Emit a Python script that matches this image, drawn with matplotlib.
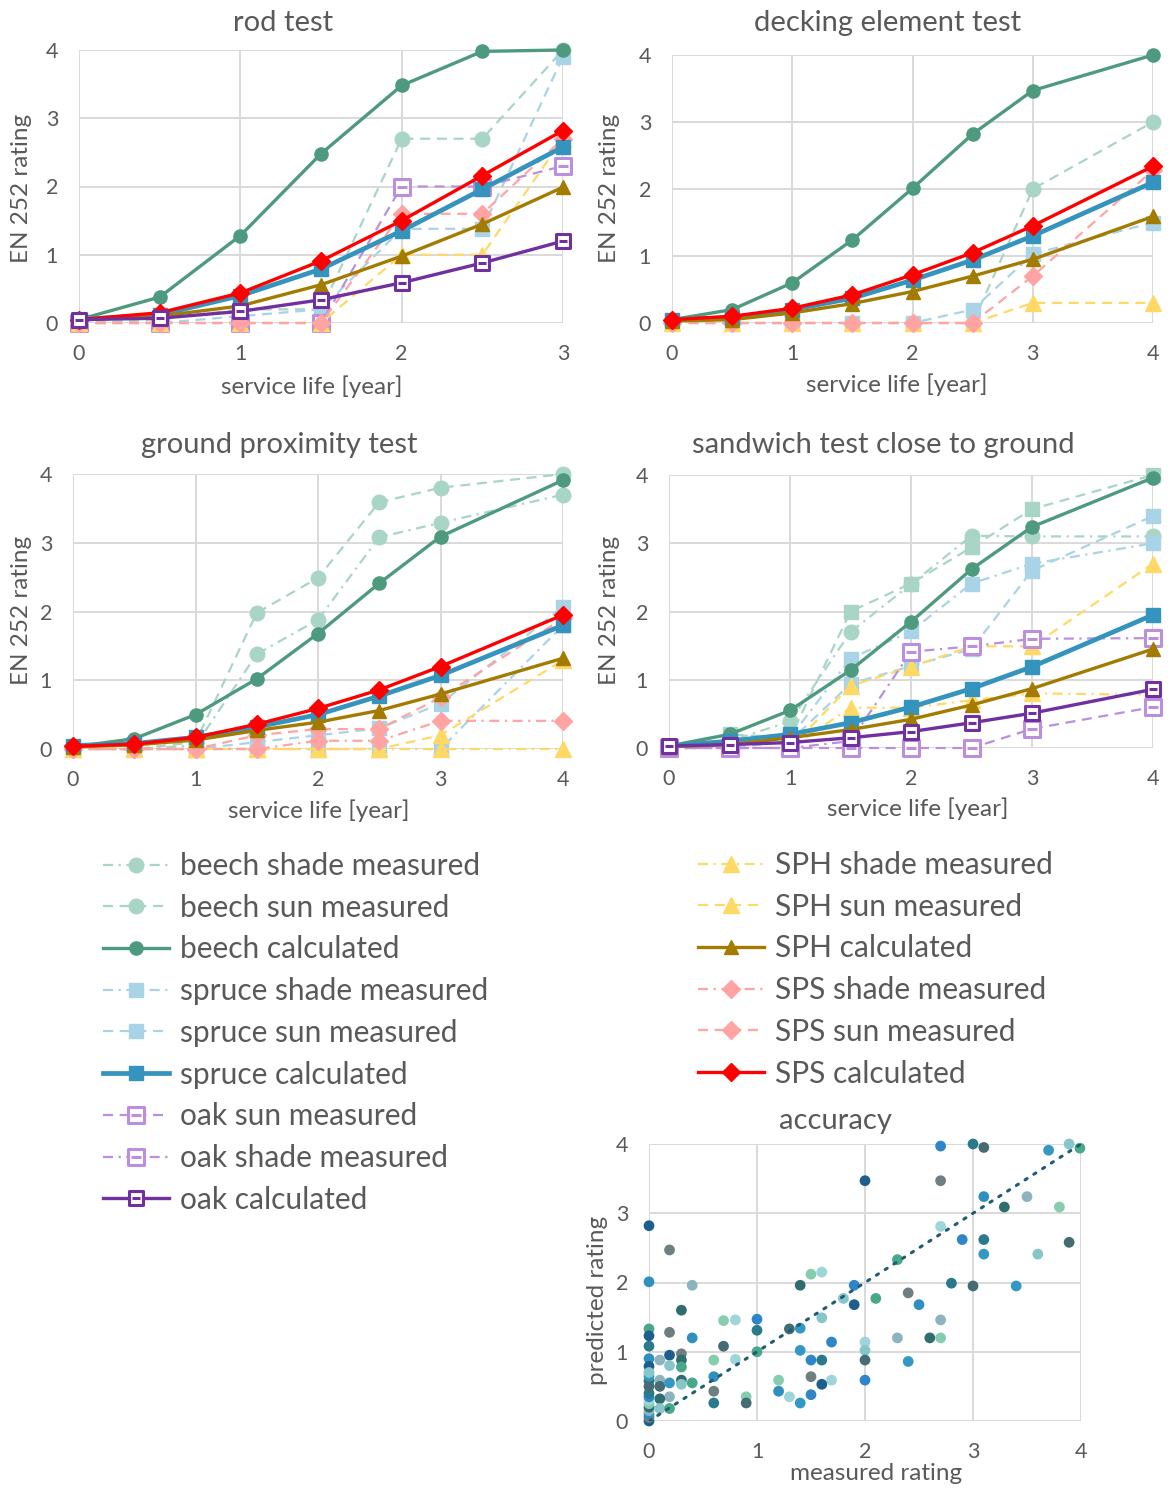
import matplotlib
matplotlib.use('Agg')
import matplotlib.pyplot as plt
from matplotlib.lines import Line2D
from matplotlib.path import Path

plt.rcParams['font.family'] = ['Lato', 'DejaVu Sans']
TXT = '#595959'
GRID = '#D9D9D9'
W, H = 1172, 1491

# ---------------- data ----------------
rod_x = [0, 0.5, 1, 1.5, 2, 2.5, 3]
rod_beech_sun = [0, 0.05, 0.2, 0.2, 2.7, 2.7, 4.0]
rod_spruce_sun = [0, 0, 0.1, 0.2, 1.38, 1.38, 3.9]
rod_oak_sun = [0, 0, 0, 0, 2.0, 2.0, 2.3]
rod_sph_sun = [0, 0, 0, 0, 1.0, 1.0, 2.7]
rod_sps_sun = [0, 0, 0, 0, 1.6, 1.6, 2.7]
rod_beech_calc = [0.05, 0.38, 1.28, 2.48, 3.48, 3.98, 4.0]
rod_spruce_calc = [0.05, 0.12, 0.4, 0.79, 1.35, 1.96, 2.58]
rod_sph_calc = [0.05, 0.1, 0.25, 0.56, 0.98, 1.45, 1.99]
rod_sps_calc = [0.05, 0.15, 0.44, 0.91, 1.5, 2.16, 2.82]
rod_oak_calc = [0.05, 0.07, 0.17, 0.34, 0.59, 0.88, 1.2]

deck_x = [0, 0.5, 1, 1.5, 2, 2.5, 3, 4]
deck_beech_sun = [0, 0, 0, 0, 0, 0, 2.0, 3.0]
deck_spruce_sun = [0, 0, 0, 0, 0, 0.2, 1.03, 1.5]
deck_sph_sun = [0, 0, 0, 0, 0, 0, 0.3, 0.3]
deck_sps_sun = [0, 0, 0, 0, 0, 0, 0.7, 2.28]
deck_beech_calc = [0.05, 0.2, 0.6, 1.24, 2.01, 2.82, 3.47, 4.0]
deck_spruce_calc = [0.05, 0.08, 0.2, 0.37, 0.64, 0.94, 1.3, 2.1]
deck_sph_calc = [0.03, 0.05, 0.15, 0.29, 0.47, 0.7, 0.95, 1.59]
deck_sps_calc = [0.05, 0.1, 0.22, 0.42, 0.72, 1.05, 1.45, 2.34]

gp_x = [0, 0.5, 1, 1.5, 2, 2.5, 3, 4]
gp_beech_sun = [0, 0, 0.1, 1.98, 2.49, 3.59, 3.8, 4.0]
gp_beech_shade = [0, 0, 0.05, 1.38, 1.88, 3.08, 3.29, 3.7]
gp_spruce_sun = [0, 0, 0, 0.1, 0.2, 0.3, 0.66, 2.07]
gp_spruce_shade = [0, 0, 0, 0, 0, 0, 0, 1.8]
gp_sph_sun = [0, 0, 0, 0, 0, 0, 0.2, 1.29]
gp_sph_shade = [0, 0, 0, 0, 0, 0, 0, 0]
gp_sps_sun = [0, 0, 0, 0.2, 0.29, 0.29, 0.75, 1.9]
gp_sps_shade = [0, 0, 0, 0, 0.12, 0.12, 0.41, 0.41]
gp_beech_calc = [0.03, 0.15, 0.5, 1.02, 1.68, 2.41, 3.09, 3.91]
gp_spruce_calc = [0.05, 0.08, 0.17, 0.32, 0.5, 0.77, 1.07, 1.8]
gp_sph_calc = [0.03, 0.06, 0.13, 0.27, 0.39, 0.56, 0.8, 1.32]
gp_sps_calc = [0.04, 0.07, 0.17, 0.36, 0.59, 0.86, 1.2, 1.95]

sw_x = [0, 0.5, 1, 1.5, 2, 2.5, 3, 4]
sw_beech_sq = [0, 0.2, 0.15, 2.0, 2.41, 2.94, 3.5, 4.0]
sw_beech_shade = [0, 0.1, 0.39, 1.7, 2.4, 3.11, 3.1, 3.1]
sw_spruce_shade = [0, 0.05, 0.15, 1.31, 1.71, 2.41, 2.7, 3.0]
sw_spruce_sun = [0, 0, 0.1, 0.94, 1.2, 1.45, 2.6, 3.4]
sw_sph_sun = [0, 0, 0, 0.91, 1.19, 1.49, 1.49, 2.7]
sw_sph_shade = [0, 0, 0, 0.59, 0.59, 0.7, 0.8, 0.78]
sw_oak_shade = [0, 0, 0, 0.1, 1.41, 1.49, 1.6, 1.61]
sw_oak_sun = [0, 0, 0, 0, 0, 0, 0.28, 0.6]
sw_beech_calc = [0.03, 0.2, 0.55, 1.14, 1.85, 2.62, 3.24, 3.96]
sw_spruce_calc = [0.03, 0.1, 0.2, 0.37, 0.6, 0.87, 1.19, 1.95]
sw_sph_calc = [0.02, 0.05, 0.15, 0.27, 0.42, 0.63, 0.87, 1.45]
sw_oak_calc = [0.03, 0.05, 0.08, 0.15, 0.24, 0.37, 0.51, 0.86]

acc_measured = [2.7, 3.0, 3.1, 3.7, 3.89, 3.99, 2.0, 2.7, 3.1, 3.5, 3.29, 3.8, 2.7, 2.9, 3.1, 3.89,
                3.1, 3.6, 2.3, 0, 0.19, 0, 0.4, 1.4, 1.5, 1.6, 1.9, 2.8, 3.0, 3.4, 1.8, 2.1, 1.9,
                2.4, 2.5, 2.7, 0.3, 0.69, 0.8, 1.0, 1.0, 1.3, 1.4, 1.6, 0, 0, 0.19, 0.4, 2.3, 2.6,
                2.7, 2.0, 1.69, 0, 0.69, 1.4, 2.0, 1.0, 0.19, 0.3, 0, 0.1, 0.3, 0.6, 0.8, 1.5, 1.6,
                2.0, 2.4, 0.19, 0.3, 0, 1.5, 0.6, 0.1, 0.3, 1.2, 1.69, 2.0, 0, 0.1, 0.19, 0.3, 0.4,
                1.6, 0.6, 1.2, 0.19, 0.1, 0.9, 1.3, 1.5, 0.6, 0.9, 1.4, 0.1, 0.19,
                0, 0, 0, 0, 0, 0, 0, 0, 0, 0, 0, 0]
acc_predicted = [3.97, 4.0, 3.95, 3.91, 4.0, 3.94, 3.47, 3.47, 3.24, 3.24, 3.09, 3.09, 2.81, 2.62, 2.62, 2.58,
                 2.41, 2.41, 2.33, 2.82, 2.47, 2.01, 1.96, 1.96, 2.12, 2.15, 1.96, 1.99, 1.95, 1.95, 1.77, 1.77, 1.68,
                 1.85, 1.68, 1.46, 1.6, 1.45, 1.46, 1.47, 1.31, 1.33, 1.34, 1.49, 1.33, 1.23, 1.28, 1.2, 1.2, 1.2,
                 1.2, 1.14, 1.14, 1.08, 1.08, 1.02, 1.02, 1.0, 0.95, 0.97, 0.9, 0.88, 0.88, 0.88, 0.89, 0.88, 0.88,
                 0.88, 0.86, 0.8, 0.78, 0.79, 0.64, 0.64, 0.59, 0.59, 0.59, 0.59, 0.59, 0.58, 0.5, 0.55, 0.53, 0.55,
                 0.53, 0.43, 0.43, 0.35, 0.32, 0.35, 0.35, 0.38, 0.26, 0.26, 0.26, 0.18, 0.18,
                 0.0, 0.05, 0.1, 0.15, 0.2, 0.25, 0.3, 0.35, 0.4, 0.5, 0.65, 0.7]

# ---------------- styles ----------------
# open square with a short bar in the middle (oak marker)
oak_verts = [(-1, -1), (1, -1), (1, 1), (-1, 1), (-1, -1), (-0.6, 0), (0.6, 0)]
oak_codes = [Path.MOVETO, Path.LINETO, Path.LINETO, Path.LINETO, Path.CLOSEPOLY, Path.MOVETO, Path.LINETO]
OAK = Path(oak_verts, oak_codes)

DASH = (0, (4.5, 3))
DASHDOT = (0, (4.5, 2.5, 1, 2.5))

S = {
    'beech shade measured': dict(color='#A9D5C7', ls=DASHDOT, lw=1.6, marker='o', ms=10.5),
    'beech sun measured': dict(color='#A9D5C7', ls=DASH, lw=1.6, marker='o', ms=10.5),
    'beech calculated': dict(color='#4E9A7F', ls='-', lw=2.4, marker='o', ms=9.5),
    'spruce shade measured': dict(color='#A9D3E6', ls=DASHDOT, lw=1.6, marker='s', ms=10),
    'spruce sun measured': dict(color='#A9D3E6', ls=DASH, lw=1.6, marker='s', ms=10),
    'spruce calculated': dict(color='#3594BD', ls='-', lw=3.4, marker='s', ms=9.5),
    'oak sun measured': dict(color='#B98FDE', ls=DASH, lw=1.6, marker=OAK, ms=11, mfc='white', mew=2.2),
    'oak shade measured': dict(color='#B98FDE', ls=DASHDOT, lw=1.6, marker=OAK, ms=11, mfc='white', mew=2.2),
    'oak calculated': dict(color='#7030A0', ls='-', lw=2.4, marker=OAK, ms=10.5, mfc='white', mew=2.2),
    'SPH shade measured': dict(color='#FFD966', ls=DASHDOT, lw=1.6, marker='^', ms=11),
    'SPH sun measured': dict(color='#FFD966', ls=DASH, lw=1.6, marker='^', ms=11),
    'SPH calculated': dict(color='#A37B00', ls='-', lw=2.4, marker='^', ms=10.5),
    'SPS shade measured': dict(color='#FFA3A3', ls=DASHDOT, lw=1.6, marker='D', ms=9.5),
    'SPS sun measured': dict(color='#FFA3A3', ls=DASH, lw=1.6, marker='D', ms=9.5),
    'SPS calculated': dict(color='#FF0000', ls='-', lw=2.4, marker='D', ms=9.5),
}


def style(name):
    d = dict(S[name])
    out = dict(color=d['color'], linestyle=d['ls'], linewidth=d['lw'], marker=d['marker'],
               markersize=d['ms'], markeredgecolor=d['color'],
               markerfacecolor=d.get('mfc', d['color']), markeredgewidth=d.get('mew', 1))
    return out


def px_axes(l, t, r, b):
    return fig.add_axes([l / W, 1 - b / H, (r - l) / W, (b - t) / H])


def ftext(x, y, s, size, rot=0):
    fig.text(x / W, 1 - y / H, s, ha='center', va='center', fontsize=size, color=TXT, rotation=rot)


def setup(ax, xmax):
    ax.set_xlim(0, xmax)
    ax.set_ylim(0, 4)
    ax.set_xticks(range(0, xmax + 1))
    ax.set_yticks(range(0, 5))
    ax.grid(True, color=GRID, lw=1.4)
    ax.set_axisbelow(True)
    for sp in ax.spines.values():
        sp.set_visible(False)
    ax.tick_params(length=0, labelsize=15.5, labelcolor=TXT, pad=15)


def draw(ax, x, series):
    for name, y in series:
        ax.plot(x, y, clip_on=False, **style(name))


fig = plt.figure(figsize=(W / 100, H / 100), dpi=100)
TITLE = 21
LABEL = 17.5

# rod test
ax = px_axes(79, 50, 563, 323)
setup(ax, 3)
draw(ax, rod_x, [('beech sun measured', rod_beech_sun), ('spruce sun measured', rod_spruce_sun),
                 ('oak sun measured', rod_oak_sun), ('SPH sun measured', rod_sph_sun),
                 ('SPS sun measured', rod_sps_sun), ('beech calculated', rod_beech_calc),
                 ('spruce calculated', rod_spruce_calc), ('SPH calculated', rod_sph_calc),
                 ('SPS calculated', rod_sps_calc), ('oak calculated', rod_oak_calc)])
ftext(283, 23, 'rod test', TITLE)
ftext(312, 387, 'service life [year]', LABEL)
ftext(22, 188, 'EN 252 rating', LABEL, 90)

# decking element test
ax = px_axes(672, 55, 1153, 323)
setup(ax, 4)
draw(ax, deck_x, [('beech sun measured', deck_beech_sun), ('spruce sun measured', deck_spruce_sun),
                  ('SPH sun measured', deck_sph_sun), ('SPS sun measured', deck_sps_sun),
                  ('beech calculated', deck_beech_calc), ('spruce calculated', deck_spruce_calc),
                  ('SPH calculated', deck_sph_calc), ('SPS calculated', deck_sps_calc)])
ftext(888, 23, 'decking element test', TITLE)
ftext(897, 385, 'service life [year]', LABEL)
ftext(609, 188, 'EN 252 rating', LABEL, 90)

# ground proximity test
ax = px_axes(73, 474, 563, 749)
setup(ax, 4)
draw(ax, gp_x, [('beech sun measured', gp_beech_sun), ('beech shade measured', gp_beech_shade),
                ('spruce sun measured', gp_spruce_sun), ('spruce shade measured', gp_spruce_shade),
                ('SPH sun measured', gp_sph_sun), ('SPH shade measured', gp_sph_shade),
                ('SPS sun measured', gp_sps_sun), ('SPS shade measured', gp_sps_shade),
                ('beech calculated', gp_beech_calc), ('spruce calculated', gp_spruce_calc),
                ('SPH calculated', gp_sph_calc), ('SPS calculated', gp_sps_calc)])
ftext(279, 445, 'ground proximity test', TITLE)
ftext(319, 811, 'service life [year]', LABEL)
ftext(22, 610, 'EN 252 rating', LABEL, 90)

# sandwich test
ax = px_axes(669, 475, 1153, 748)
setup(ax, 4)
sq = style('beech sun measured')
sq['marker'] = 's'
ax.plot(sw_x, sw_beech_sq, clip_on=False, **sq)
draw(ax, sw_x, [('beech shade measured', sw_beech_shade),
                ('spruce shade measured', sw_spruce_shade), ('spruce sun measured', sw_spruce_sun),
                ('SPH sun measured', sw_sph_sun), ('SPH shade measured', sw_sph_shade),
                ('oak shade measured', sw_oak_shade), ('oak sun measured', sw_oak_sun),
                ('beech calculated', sw_beech_calc), ('spruce calculated', sw_spruce_calc),
                ('SPH calculated', sw_sph_calc), ('oak calculated', sw_oak_calc)])
ftext(883, 445, 'sandwich test close to ground', TITLE)
ftext(918, 809, 'service life [year]', LABEL)
ftext(609, 610, 'EN 252 rating', LABEL, 90)

# accuracy
ax = px_axes(649, 1144, 1081, 1421)
setup(ax, 4)
ax.tick_params(pad=15)
palette = ['#2E86C8', '#2B7A8C', '#456B73', '#3399C4', '#86C5C9', '#4AA88A', '#1D5E8C',
           '#6E7F80', '#2F8FBF', '#8DB3BE', '#2F6E6E', '#86CDB0', '#9ED5D8']
cols = [palette[i % len(palette)] for i in range(len(acc_measured))]
ax.scatter(acc_measured, acc_predicted, s=60, c=cols, zorder=3, clip_on=False, linewidths=0)
ax.plot([0, 4], [0, 4], color='#1F5C73', lw=2.2, linestyle=(0, (0.8, 2.6)),
        dash_capstyle='round', zorder=4)
ftext(835, 1121, 'accuracy', TITLE)
ftext(876, 1473, 'measured rating', LABEL)
ftext(598, 1300, 'predicted rating', LABEL, 90)

# legends
left_names = ['beech shade measured', 'beech sun measured', 'beech calculated',
              'spruce shade measured', 'spruce sun measured', 'spruce calculated',
              'oak sun measured', 'oak shade measured', 'oak calculated']
right_names = ['SPH shade measured', 'SPH sun measured', 'SPH calculated',
               'SPS shade measured', 'SPS sun measured', 'SPS calculated']
for names, x0, y0 in [(left_names, 103, 852), (right_names, 698, 851)]:
    handles = [Line2D([], [], **style(n)) for n in names]
    fig.legend(handles, names, loc='upper left', bbox_to_anchor=(x0 / W, 1 - y0 / H),
               frameon=False, fontsize=21.5, labelcolor=TXT, handlelength=2.2,
               handletextpad=0.37, labelspacing=0.46, borderpad=0, borderaxespad=0)

fig.savefig('out.png', dpi=100)
